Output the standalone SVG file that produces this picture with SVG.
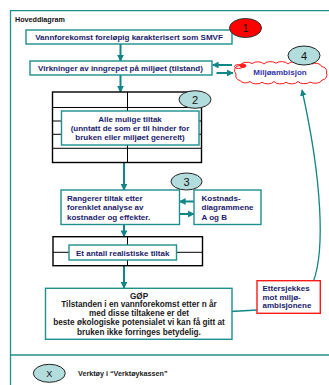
<svg xmlns="http://www.w3.org/2000/svg" width="329" height="385" viewBox="0 0 329 385">
<defs>
<marker id="ah" viewBox="0 0 10 10" refX="9" refY="5" markerWidth="3.4" markerHeight="3.4" orient="auto" markerUnits="strokeWidth">
<path d="M0,0 L10,5 L0,10 Z" fill="#128686"/>
</marker>
<marker id="ahs" viewBox="0 0 10 10" refX="9" refY="5" markerWidth="5" markerHeight="5" orient="auto" markerUnits="strokeWidth">
<path d="M0,0 L10,5 L0,10 Z" fill="#128686"/>
</marker>
</defs>
<style>
text{font-family:"Liberation Sans",Arial,sans-serif;font-weight:bold;}
.t{font-size:8px;fill:#1b1b6b;}
.k{font-size:8.2px;fill:#1a1a1a;}
.box{fill:#fff;stroke:#1f8f8f;stroke-width:1.4;}
.grid{fill:#fff;stroke:#000;stroke-width:1.4;}
.gl{stroke:#000;stroke-width:1;fill:none;}
.num{fill:#b3dcdc;stroke:#222;stroke-width:1;}
.n{font-family:"Liberation Sans",Arial,sans-serif;font-weight:normal;font-size:11px;fill:#111;}
.arr{stroke:#128686;stroke-width:2;fill:none;marker-end:url(#ah);}
.ln{stroke:#128686;stroke-width:1.3;fill:none;}
</style>
<rect width="329" height="385" fill="#fff"/>
<g id="frame">
<path d="M10.5,385 V10.7 H329" fill="none" stroke="#1f8f8f" stroke-width="1.3"/>
<line x1="10.5" y1="355" x2="329" y2="355" stroke="#1f8f8f" stroke-width="1.6"/>
<text x="15" y="22" style="font-size:7.2px;fill:#111;">Hoveddiagram</text>
</g>
<g id="connectors">
<line class="arr" x1="120.5" y1="44" x2="120.5" y2="61"/>
<line class="arr" x1="120.5" y1="75" x2="120.5" y2="92"/>
<line class="arr" x1="124" y1="163" x2="124" y2="190"/>
<line class="arr" x1="124" y1="224" x2="124" y2="236.5"/>
<line class="arr" x1="124" y1="266" x2="124" y2="288"/>
<line class="arr" x1="232" y1="65" x2="212.5" y2="65"/>
<line class="arr" x1="216.5" y1="73" x2="233" y2="73"/>
<line class="arr" x1="194" y1="201.5" x2="179.5" y2="201.5"/>
<line class="arr" x1="179.5" y1="214" x2="194" y2="214"/>
<line class="ln" x1="231" y1="311.5" x2="257" y2="310"/>
<path d="M313.5,281 C325,250 322,180 302,90" stroke="#128686" stroke-width="1.3" fill="none" marker-end="url(#ahs)"/>
</g>
<g id="n1">
<rect class="box" x="26" y="30" width="206" height="14"/>
<text class="t" x="129" y="39.9" text-anchor="middle">Vannforekomst foreløpig karakterisert som SMVF</text>
</g>
<g id="badge1">
<ellipse cx="245.5" cy="28" rx="16" ry="9.5" fill="#ff0000" stroke="#333" stroke-width="1"/>
<text class="n" x="245.5" y="32" text-anchor="middle">1</text>
</g>
<g id="n2">
<rect class="box" x="30" y="61" width="182" height="14"/>
<text class="t" x="120.5" y="70.9" text-anchor="middle">Virkninger av inngrepet på miljøet (tilstand)</text>
</g>
<g id="cloud">
<path d="M236,74 A5,5 0 0 1 240,65.5 A7,4 0 0 1 252,63.5 A7,4 0 0 1 264,64 A7,4 0 0 1 276,63.2 A7,4 0 0 1 288,64 A7,4 0 0 1 300,63.2 A7,4 0 0 1 312,64 A6,4 0 0 1 321.5,66.5 A6,5 0 0 1 326.5,73 A5,5 0 0 1 322,80 A7,4 0 0 1 310,82 A7,4 0 0 1 298,81.5 A7,4 0 0 1 286,82.3 A7,4 0 0 1 274,81.5 A7,4 0 0 1 262,82.3 A7,4 0 0 1 250,81.5 A6,4 0 0 1 240,80.5 A5,5 0 0 1 236,74 Z" fill="#fff" stroke="#ff1a1a" stroke-width="1"/>
<ellipse cx="238.5" cy="66.5" rx="4" ry="2" fill="none" stroke="#ff1a1a" stroke-width="1"/>
<ellipse cx="243" cy="65.8" rx="3" ry="1.8" fill="#ff1a1a" stroke="#ff1a1a" stroke-width="0.8"/>
<text x="280" y="75" text-anchor="middle" style="font-size:8px;fill:#3535a8;">Miljøambisjon</text>
</g>
<g id="badge4">
<ellipse class="num" cx="304" cy="55.5" rx="16" ry="9.5"/>
<text class="n" x="304" y="59.5" text-anchor="middle">4</text>
</g>
<g id="n3">
<rect class="grid" x="52.5" y="92" width="149" height="70.5"/>
<line class="gl" x1="52.5" y1="107.5" x2="201.5" y2="107.5"/>
<line class="gl" x1="52.5" y1="121" x2="201.5" y2="121"/>
<line class="gl" x1="52.5" y1="134.3" x2="201.5" y2="134.3"/>
<line class="gl" x1="52.5" y1="148.3" x2="201.5" y2="148.3"/>
<line class="gl" x1="127.5" y1="92" x2="127.5" y2="162.5"/>
<rect class="box" x="61.5" y="111" width="137.5" height="34"/>
<text class="t" x="130" y="122" text-anchor="middle">Alle mulige tiltak</text>
<text class="t" x="130" y="131.2" text-anchor="middle">(unntatt de som er til hinder for</text>
<text class="t" x="130" y="140.4" text-anchor="middle">bruken eller miljøet generelt)</text>
</g>
<g id="badge2">
<ellipse class="num" cx="195" cy="99.5" rx="16" ry="8.8"/>
<text class="n" x="195" y="103.5" text-anchor="middle">2</text>
</g>
<g id="n4">
<rect class="box" x="61" y="190" width="118.5" height="34.5"/>
<text class="t" x="67" y="201.2">Rangerer tiltak etter</text>
<text class="t" x="67" y="210.2">forenklet analyse av</text>
<text class="t" x="67" y="219.5">kostnader og effekter.</text>
</g>
<g id="n5">
<rect class="box" x="194" y="190" width="67" height="34.5"/>
<text class="t" x="201.5" y="201.2">Kostnads-</text>
<text class="t" x="201.5" y="210.2">diagrammene</text>
<text class="t" x="201.5" y="219.5">A og B</text>
</g>
<g id="badge3">
<ellipse class="num" cx="186.5" cy="181.5" rx="15.5" ry="8.5"/>
<text class="n" x="186.5" y="185.5" text-anchor="middle">3</text>
</g>
<g id="n6">
<rect class="grid" x="53" y="236.7" width="149.5" height="29"/>
<line class="gl" x1="53" y1="252.3" x2="202.5" y2="252.3"/>
<line class="gl" x1="127.5" y1="236.7" x2="127.5" y2="265.7"/>
<rect class="box" x="69" y="245" width="107.5" height="15"/>
<text class="t" x="122.7" y="255.9" text-anchor="middle">Et antall realistiske tiltak</text>
</g>
<g id="n7">
<rect class="box" x="45.5" y="288.3" width="186.5" height="51"/>
<text class="k" x="139" y="298.5" text-anchor="middle">GØP</text>
<text class="k" x="139" y="307.3" text-anchor="middle">Tilstanden i en vannforekomst etter n år</text>
<text class="k" x="139" y="316.3" text-anchor="middle">med disse tiltakene er det</text>
<text class="k" x="139" y="325.3" text-anchor="middle">beste økologiske potensialet vi kan få gitt at</text>
<text class="k" x="139" y="334.6" text-anchor="middle">bruken ikke forringes betydelig.</text>
</g>
<g id="n8">
<rect x="257" y="280.7" width="63.3" height="32.6" fill="#fff" stroke="#ff1a1a" stroke-width="1.4"/>
<text class="t" x="262.5" y="291.2">Ettersjekkes</text>
<text class="t" x="262.5" y="299.5">mot miljø-</text>
<text class="t" x="262.5" y="308.2">ambisjonene</text>
</g>
<g id="legend">
<ellipse class="num" cx="49.3" cy="373.3" rx="16" ry="9"/>
<text x="49.3" y="376.5" text-anchor="middle" style="font-weight:normal;font-size:9px;fill:#111;">X</text>
<text x="78" y="376" style="font-size:7.2px;fill:#1a1a1a;">Verktøy i “Verktøykassen”</text>
</g>
</svg>
